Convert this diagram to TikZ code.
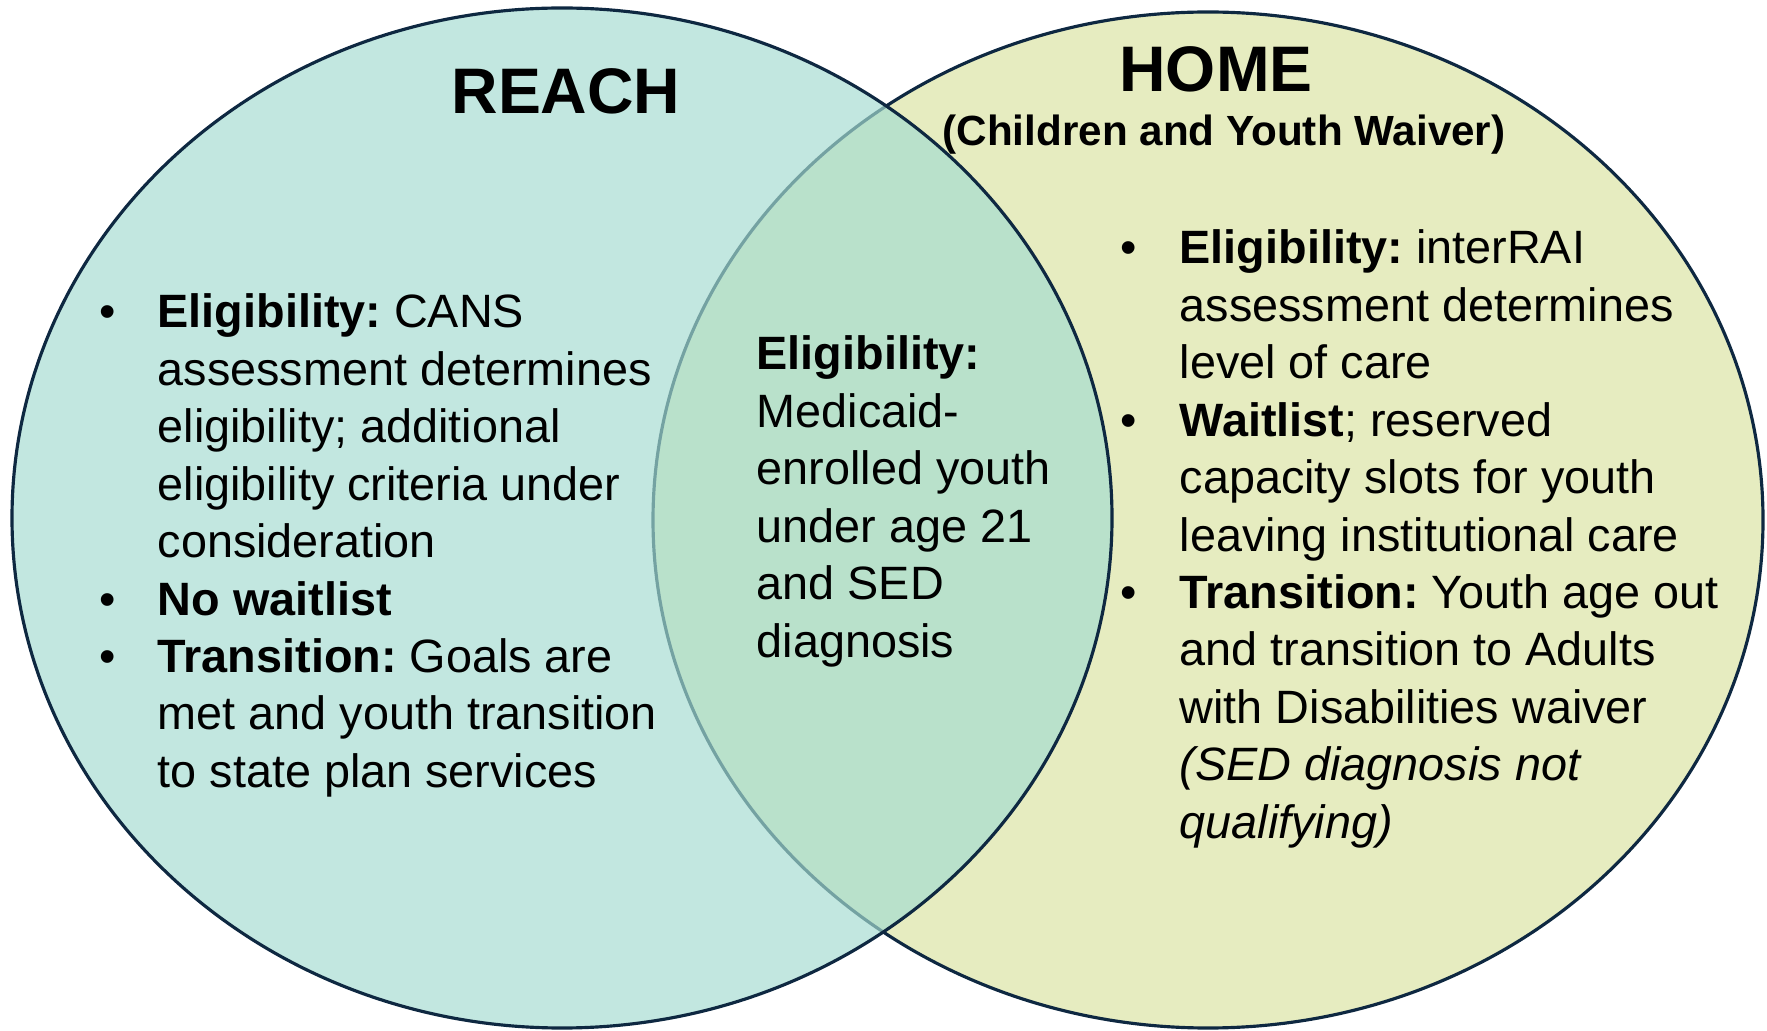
\documentclass[tikz,border=0pt]{standalone}
\usepackage{fontspec}
\setmainfont{Liberation Sans}
\usetikzlibrary{positioning}
\frenchspacing

\definecolor{reachfill}{RGB}{165,220,209}
\definecolor{homefill}{RGB}{230,236,192}
\definecolor{rim}{RGB}{14,40,65}

\begin{document}
\begin{tikzpicture}[x=0.01cm, y=-0.01cm,
	body/.style={anchor=base west, inner sep=0pt, font=\fontsize{13.3}{16.33}\selectfont},
	head/.style={inner sep=0pt, font=\bfseries\fontsize{18.3}{20}\selectfont},
	subhead/.style={inner sep=0pt, font=\bfseries\fontsize{12}{14}\selectfont},
	rimline/.style={draw=rim, line width=0.9pt}]

	\useasboundingbox (0,0) rectangle (1767,1031);

	% the two sets, REACH lies over HOME
	\filldraw[rimline, fill=homefill] (1208,520) ellipse [x radius=555, y radius=508];
	\filldraw[rimline, fill=reachfill, fill opacity=0.68] (562,518) ellipse [x radius=550, y radius=510];

	\node[head] (reach) at (566,91) {REACH};
	\node[head] (home) at (1216,69) {HOME};
	\node[subhead] (waiver) at (1224,135) {(Children and Youth Waiver)};

	\node[body] (reachlist) at (99,328) {\begin{tabular}[t]{@{}p{0.58cm}@{}l@{}}
		\textbullet & \textbf{Eligibility:} CANS\\
		& assessment determines\\
		& eligibility; additional\\
		& eligibility criteria under\\
		& consideration\\
		\textbullet & \textbf{No waitlist}\\
		\textbullet & \textbf{Transition:} Goals are\\
		& met and youth transition\\
		& to state plan services
	\end{tabular}};

	\node[body] (shared) at (756,370) {\begin{tabular}[t]{@{}l@{}}
		\textbf{Eligibility:}\\
		Medicaid-\\
		enrolled youth\\
		under age 21\\
		and SED\\
		diagnosis
	\end{tabular}};

	\node[body] (homelist) at (1120,264) {\begin{tabular}[t]{@{}p{0.59cm}@{}l@{}}
		\textbullet & \textbf{Eligibility:} interRAI\\
		& assessment determines\\
		& level of care\\
		\textbullet & \textbf{Waitlist}; reserved\\
		& capacity slots for youth\\
		& leaving institutional care\\
		\textbullet & \textbf{Transition:} Youth age out\\
		& and transition to Adults\\
		& with Disabilities waiver\\
		& \textit{(SED diagnosis not}\\
		& \textit{qualifying)}
	\end{tabular}};

\end{tikzpicture}
\end{document}
